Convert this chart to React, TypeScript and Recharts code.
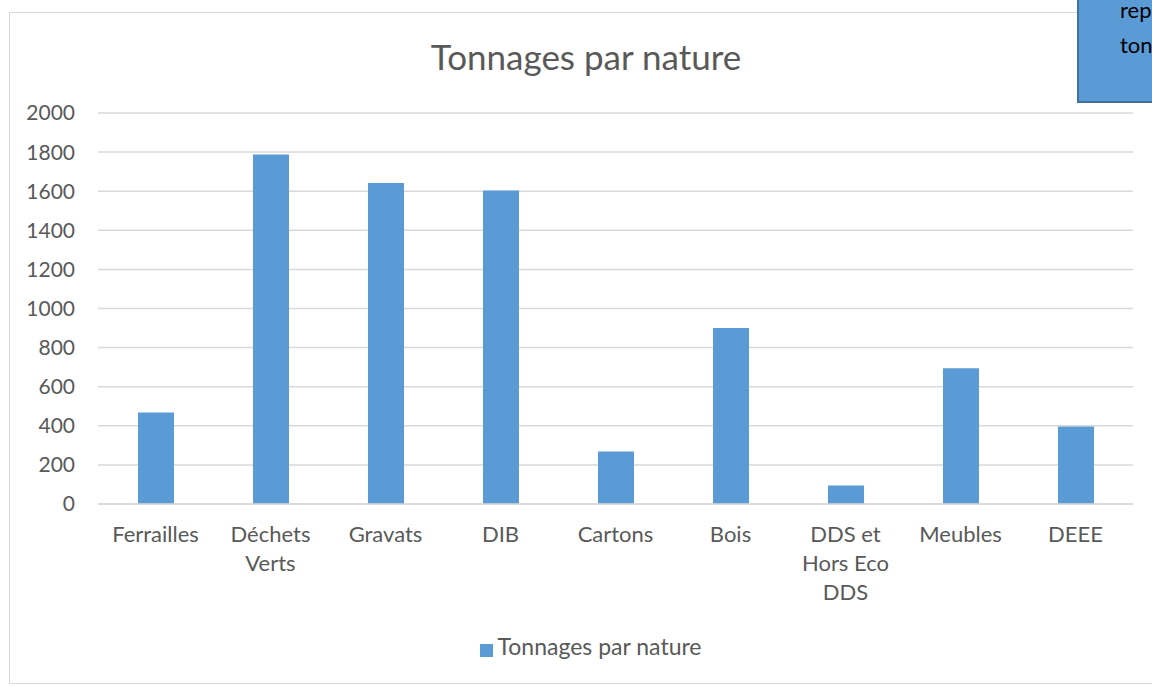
import { BarChart, Bar, XAxis, YAxis, CartesianGrid, Legend, Text } from "recharts"

const categories = ["Ferrailles", "Déchets Verts", "Gravats", "DIB", "Cartons", "Bois", "DDS et Hors Eco DDS", "Meubles", "DEEE"]
const tonnages = [468, 1788, 1642, 1603, 269, 900, 95, 695, 397]
const yTicks = [0, 200, 400, 600, 800, 1000, 1200, 1400, 1600, 1800, 2000]
const seriesName = "Tonnages par nature"
const title = "Tonnages par nature"
const boxLines = ["rep", "ton"]

const data = categories.map((name, i) => ({ name, value: tonnages[i] }))

const FONT = "Lato, 'Liberation Sans', sans-serif"
const GREY = "#595959"
const BLUE = "#5b9bd5"

function CategoryTick({ x, y, payload }: any) {
    return (
        <Text
            x={x}
            y={y}
            width={70}
            textAnchor="middle"
            verticalAnchor="start"
            lineHeight={29}
            fill={GREY}
            fontSize={22}
            fontFamily={FONT}
            style={{ fontSize: 22, fontFamily: FONT }}
        >
            {payload.value}
        </Text>
    )
}

export default function App() {
    return (
        <div
            style={{
                position: "absolute",
                left: 0,
                top: 0,
                width: 1152,
                height: 687,
                overflow: "hidden",
                background: "#fff",
                fontFamily: FONT,
            }}
        >
            {/* chart area frame */}
            <div
                style={{
                    position: "absolute",
                    left: 9,
                    top: 12,
                    width: 1200,
                    height: 672,
                    border: "1.5px solid #d9d9d9",
                    boxSizing: "border-box",
                }}
            />
            <div
                style={{
                    position: "absolute",
                    left: 0,
                    top: 35,
                    width: 1172,
                    textAlign: "center",
                    fontSize: 35,
                    color: GREY,
                }}
            >
                {title}
            </div>
            <div style={{ position: "absolute", left: 0, top: 0 }}>
                <BarChart
                    width={1152}
                    height={687}
                    data={data}
                    margin={{ top: 113, right: 19, bottom: 123, left: 0 }}
                >
                    <CartesianGrid vertical={false} stroke="#d9d9d9" strokeWidth={1.5} />
                    <XAxis
                        dataKey="name"
                        height={60}
                        interval={0}
                        axisLine={{ stroke: "#d9d9d9", strokeWidth: 1.5 }}
                        tickLine={false}
                        tickMargin={16}
                        tick={<CategoryTick />}
                    />
                    <YAxis
                        width={98}
                        domain={[0, 2000]}
                        ticks={yTicks}
                        axisLine={false}
                        tickLine={false}
                        tickMargin={17}
                        tick={{ fill: GREY, fontSize: 21, fontFamily: FONT }}
                    />
                    <Legend
                        verticalAlign="middle"
                        align="center"
                        iconType="square"
                        iconSize={13}
                        wrapperStyle={{ top: 632, left: 20, width: 1152 }}
                        formatter={(v: string) => (
                            <span style={{ color: GREY, fontSize: 23, fontFamily: FONT }}>{v}</span>
                        )}
                    />
                    <Bar dataKey="value" name={seriesName} fill={BLUE} barSize={36} isAnimationActive={false} />
                </BarChart>
            </div>
            {/* overlapping text box, cut by the picture edge */}
            <div
                style={{
                    position: "absolute",
                    left: 1077,
                    top: -10,
                    width: 120,
                    height: 113,
                    background: BLUE,
                    border: "2px solid #41719c",
                    boxSizing: "border-box",
                    paddingLeft: 41,
                    paddingTop: 0,
                    fontSize: 22,
                    lineHeight: "35px",
                    color: "#000",
                }}
            >
                {boxLines.map((l) => (
                    <div key={l}>{l}</div>
                ))}
            </div>
        </div>
    )
}
